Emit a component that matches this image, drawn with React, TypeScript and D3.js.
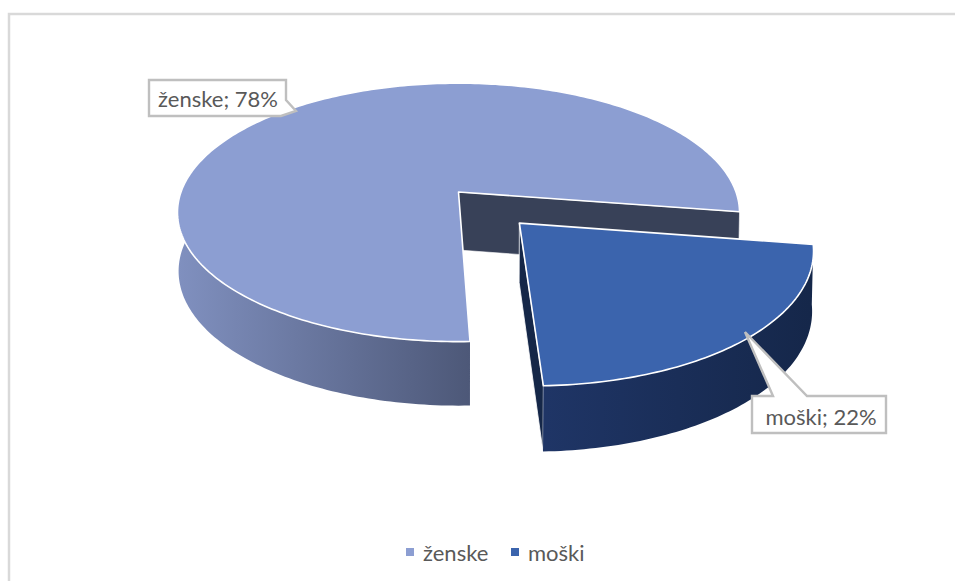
import React from "react";
import * as d3 from "d3";

// Survey split shown as an exploded 3D pie
const categories = ["ženske", "moški"];
const shares = [78, 22];
const topColors = ["#8c9ed2", "#3b64ad"];
const wallStops = [
  ["#8090bf", "#4d5878"],
  ["#1f3566", "#15274a"],
];
const cutWallColor = "#384158";
const innerWallColor = "#152748";
const inkColor = "#595959";
const labelFont = "Lato, 'Open Sans', sans-serif";

const W = 955;
const H = 581;
const DEG = Math.PI / 180;

// Perspective mapping of the pie's plane onto the screen
const centre = { x: 458.5, y: 192 };
const spanX = 277.5;
const spanY = 126;
const tilt = -0.158;
const depth = 58;
const depthScaleY = 1.04;
const depthScaleX = 0.996;
const explodeBy = 0.318;

type Pt = [number, number];

const project = (px: number, py: number): Pt => {
  const w = 1 + tilt * py;
  return [centre.x + (spanX * px) / w, centre.y + (spanY * py) / w];
};

const toFloor = ([x, y]: Pt): Pt => [
  centre.x + (x - centre.x) * depthScaleX,
  centre.y + depth + (y - centre.y) * depthScaleY,
];

const rim = (a: number, ox: number, oy: number): Pt =>
  project(Math.sin(a) + ox, -Math.cos(a) + oy);

const sweep = (a0: number, a1: number, ox: number, oy: number): Pt[] => {
  const steps = Math.max(2, Math.ceil(Math.abs(a1 - a0) / DEG));
  return d3.range(steps + 1).map((i) => rim(a0 + ((a1 - a0) * i) / steps, ox, oy));
};

const line = d3.line<Pt>();
const closed = (pts: Pt[]) => `${line(pts)}Z`;

const pie = d3
  .pie<number>()
  .sort(null)
  .startAngle(178 * DEG)
  .endAngle((178 + 360) * DEG);

const arcs = pie(shares);

const Callout = ({ d, tx, ty, text }: { d: string; tx: number; ty: number; text: string }) => (
  <g>
    <path d={d} fill="#ffffff" stroke="#bfbfbf" strokeWidth={2.4} strokeLinejoin="miter" />
    <text x={tx} y={ty} textAnchor="middle" dominantBaseline="central" fontFamily={labelFont} fontSize={22} fill={inkColor}>
      {text}
    </text>
  </g>
);

export default function App() {
  const [big, small] = arcs;
  const mid = (small.startAngle + small.endAngle) / 2;
  const ox = Math.sin(mid) * explodeBy;
  const oy = -Math.cos(mid) * explodeBy;

  // Main slice
  const bigRim = sweep(big.startAngle, big.endAngle, 0, 0);
  const bigApex = project(0, 0);
  const bigWallTop = sweep(big.startAngle, 285 * DEG, 0, 0);
  const bigWall = [...bigWallTop, ...bigWallTop.map(toFloor).reverse()];
  const cutA = rim(big.endAngle, 0, 0);
  const cutWall = [bigApex, cutA, toFloor(cutA), toFloor(bigApex)];

  // Pulled-out slice
  const smallRim = sweep(small.startAngle, small.endAngle, ox, oy);
  const smallApex = project(ox, oy);
  const smallWall = [...smallRim, ...smallRim.map(toFloor).reverse()];
  const smallFront = rim(small.endAngle, ox, oy);
  const smallInner = [smallApex, smallFront, toFloor(smallFront), toFloor(smallApex)];

  return (
    <svg width={W} height={H} style={{ position: "absolute", left: 0, top: 0, background: "#fff" }}>
      <defs>
        {wallStops.map((stops, i) => (
          <linearGradient
            key={i}
            id={`wall-${i}`}
            gradientUnits="userSpaceOnUse"
            x1={i === 0 ? 178 : 545}
            x2={i === 0 ? 470 : 810}
            y1={0}
            y2={0}
          >
            <stop offset="0" stopColor={stops[0]} />
            <stop offset="1" stopColor={stops[1]} />
          </linearGradient>
        ))}
      </defs>

      <path d="M9,581V14H955" fill="none" stroke="#d9d9d9" strokeWidth={2.5} />

      <path d={closed(cutWall)} fill={cutWallColor} stroke="#ffffff" strokeWidth={0.6} />
      <path d={closed(bigWall)} fill="url(#wall-0)" />
      <path d={closed([bigApex, ...bigRim])} fill={topColors[0]} stroke="#ffffff" strokeWidth={1.6} strokeLinejoin="round" />

      <path d={closed(smallInner)} fill={innerWallColor} stroke="#ffffff" strokeWidth={0.8} />
      <path d={closed(smallWall)} fill="url(#wall-1)" />
      <path d={closed([smallApex, ...smallRim])} fill={topColors[1]} stroke="#ffffff" strokeWidth={1.6} strokeLinejoin="round" />

      <Callout
        d="M149,80H286V100L296,111L281,116H149Z"
        tx={218}
        ty={98}
        text={`${categories[0]}; ${shares[0]}%`}
      />
      <Callout
        d="M752,396H773L745,332L807,396H886V433H752Z"
        tx={821}
        ty={416}
        text={`${categories[1]}; ${shares[1]}%`}
      />

      <rect x={406} y={548} width={8} height={8} fill={topColors[0]} />
      <text x={423} y={552} dominantBaseline="central" fontFamily={labelFont} fontSize={22} fill={inkColor}>
        {categories[0]}
      </text>
      <rect x={511} y={548} width={8} height={8} fill={topColors[1]} />
      <text x={528} y={552} dominantBaseline="central" fontFamily={labelFont} fontSize={22} fill={inkColor}>
        {categories[1]}
      </text>
    </svg>
  );
}
